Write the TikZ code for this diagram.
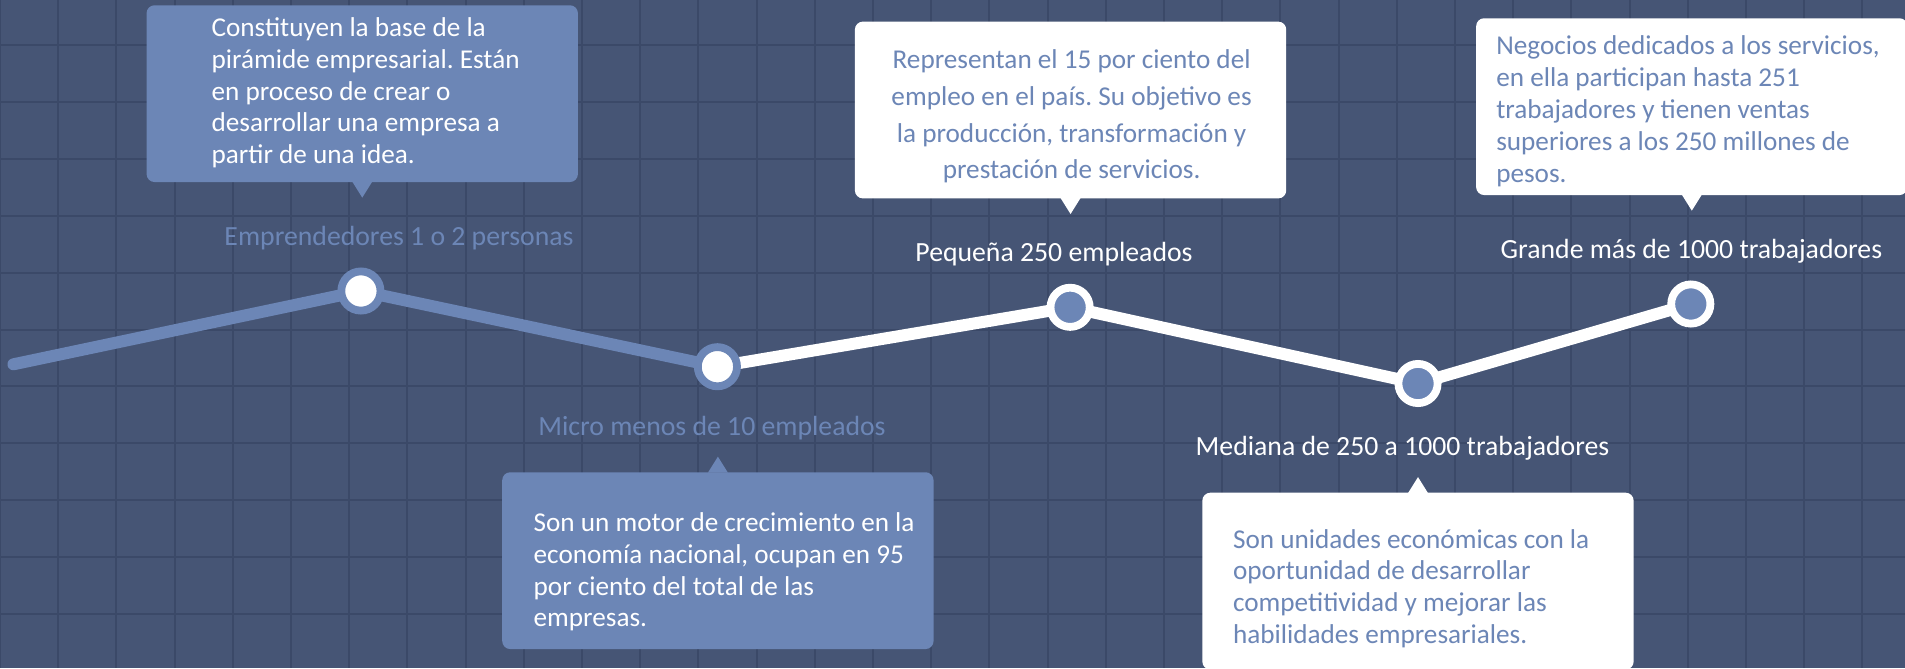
\documentclass[tikz,border=0pt]{standalone}
\usepackage{fontspec}
\setmainfont{Carlito}
\usetikzlibrary{positioning}
\frenchspacing

\definecolor{slate}{RGB}{70,85,117}
\definecolor{gridline}{RGB}{59,73,104}
\definecolor{steel}{RGB}{108,134,182}

\pgfdeclarelayer{back}
\pgfsetlayers{back,main}

\begin{document}
\begin{tikzpicture}[x=0.75pt,y=-0.75pt,
    txt/.style={font=\fontsize{20.4}{23.85}\selectfont,inner sep=0pt},
    tag/.style={font=\fontsize{20.8}{24}\selectfont,inner sep=0pt,anchor=base},
    stage/.style={circle,line width=5.85pt,minimum size=29.4pt,inner sep=0pt},
    bubble/.style={rectangle,rounded corners=6pt,minimum width=323.5pt,minimum height=132.6pt,inner sep=0pt},
    track/.style={line width=9pt,line cap=round,line join=round}]

  \useasboundingbox (0,0) rectangle (1905,668);

  \begin{pgfonlayer}{back}
    % Background and grid
    \fill[slate] (0,0) rectangle (1905,668);
    \foreach \gx in {0,...,32}
      \draw[gridline,line width=1.5pt] (\gx*58.2,0) -- (\gx*58.2,668);
    \foreach \gy in {0,...,10}
      \draw[gridline,line width=1.5pt] (0,45+\gy*56.9) -- (1905,45+\gy*56.9);
  \end{pgfonlayer}

  % Stages
  \coordinate (start) at (13.4,364.3);
  \node[stage,draw=steel,fill=white] (n1) at (360.9,291) {};
  \node[stage,draw=steel,fill=white] (n2) at (717.4,366.7) {};
  \node[stage,draw=white,fill=steel] (n3) at (1070.1,307.3) {};
  \node[stage,draw=white,fill=steel] (n4) at (1418,383.5) {};
  \node[stage,draw=white,fill=steel] (n5) at (1690.8,304) {};

  % Stage labels
  \node[tag,text=steel] (l1) at (399,245) {Emprendedores 1 o 2 personas};
  \node[tag,text=steel] (l2) at (712,435) {Micro menos de 10 empleados};
  \node[tag,text=white] (l3) at (1054,261.7) {Pequeña 250 empleados};
  \node[tag,text=white] (l4) at (1402.5,455) {Mediana de 250 a 1000 trabajadores};
  \node[tag,text=white] (l5) at (1691.4,258.3) {Grande más de 1000 trabajadores};

  % Bubbles
  \node[bubble,fill=steel] (b1) at (362.25,93.65) {};
  \node[bubble,fill=steel] (b2) at (717.9,560.65) {};
  \node[bubble,fill=white] (b3) at (1070.55,110) {};
  \node[bubble,fill=white] (b4) at (1418,581.1) {};
  \node[bubble,fill=white] (b5) at (1691.8,106.65) {};

  \fill[steel] ([xshift=-7.5pt,yshift=0.5pt]b1.south) -- ([xshift=7.5pt,yshift=0.5pt]b1.south) -- ([yshift=-11.5pt]b1.south) -- cycle;
  \fill[steel] ([xshift=-7.5pt,yshift=-0.5pt]b2.north) -- ([xshift=7.5pt,yshift=-0.5pt]b2.north) -- ([yshift=11.5pt]b2.north) -- cycle;
  \fill[white] ([xshift=-7.5pt,yshift=0.5pt]b3.south) -- ([xshift=7.5pt,yshift=0.5pt]b3.south) -- ([yshift=-11.5pt]b3.south) -- cycle;
  \fill[white] ([xshift=-7.5pt,yshift=-0.5pt]b4.north) -- ([xshift=7.5pt,yshift=-0.5pt]b4.north) -- ([yshift=11.5pt]b4.north) -- cycle;
  \fill[white] ([xshift=-7.5pt,yshift=0.5pt]b5.south) -- ([xshift=7.5pt,yshift=0.5pt]b5.south) -- ([yshift=-11.5pt]b5.south) -- cycle;

  % Bubble texts
  \node[txt,text=white,align=left,anchor=north west] (t1) at (211.3,17.3)
    {Constituyen la base de la\\pirámide empresarial. Están\\en proceso de crear o\\desarrollar una empresa a\\partir de una idea.};
  \node[txt,text=white,align=left,anchor=north west] (t2) at (533.4,512.3)
    {Son un motor de crecimiento en la\\economía nacional, ocupan en 95\\por ciento del total de las\\empresas.};
  \node[txt,text=steel,align=center,anchor=north,font=\fontsize{20.4}{27.7}\selectfont] (t3) at (1071.6,49)
    {Representan el 15 por ciento del\\empleo en el país. Su objetivo es\\la producción, transformación y\\prestación de servicios.};
  \node[txt,text=steel,align=left,anchor=north west] (t4) at (1232.8,529)
    {Son unidades económicas con la\\oportunidad de desarrollar\\competitividad y mejorar las\\habilidades empresariales.};
  \node[txt,text=steel,align=left,anchor=north west] (t5) at (1496,35.7)
    {Negocios dedicados a los servicios,\\en ella participan hasta 251\\trabajadores y tienen ventas\\superiores a los 250 millones de\\pesos.};

  \begin{pgfonlayer}{back}
    % Track
    \draw[track,steel] (start) -- (n1.center) -- (n2.center);
    \draw[track,white] (n2.center) -- (n3.center) -- (n4.center) -- (n5.center);
  \end{pgfonlayer}
\end{tikzpicture}
\end{document}
